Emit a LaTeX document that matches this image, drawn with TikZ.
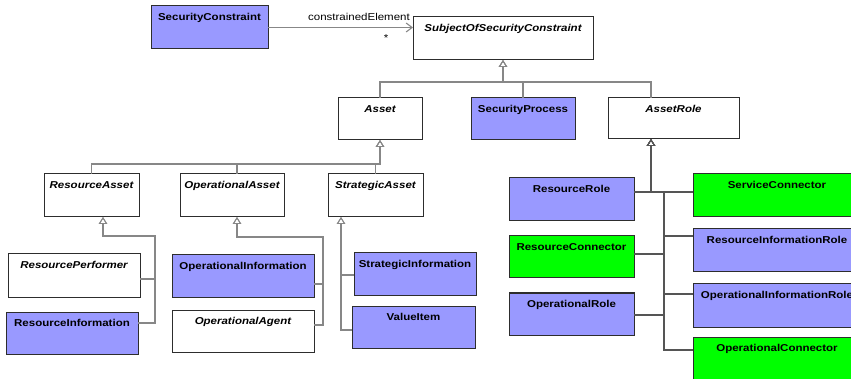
\documentclass[tikz,border=0pt]{standalone}
\usepackage{fontspec}
\setmainfont{Liberation Sans}[FakeStretch=1.15]
\usetikzlibrary{arrows.meta}
\definecolor{umlblue}{RGB}{153,153,255}
\definecolor{umlgreen}{RGB}{0,255,0}
\definecolor{boxline}{RGB}{45,45,45}
\definecolor{conn}{RGB}{135,135,135}
\definecolor{conndark}{RGB}{85,85,85}
\newcommand\umlbox[7]{%
  \pgfmathsetmacro\ubw{#4-#2}%
  \pgfmathsetmacro\ubd{#5-#3-14.5}%
  \node[cls,#6,minimum width=\ubw pt,text depth=\ubd pt] (#1) at (#2,#3) {#7};}
\begin{document}
\begin{tikzpicture}[x=1pt,y=-1pt,
  cls/.style={draw=boxline,line width=1pt,inner sep=0pt,outer sep=0pt,anchor=north west,
    text height=14.5pt,fill=white,font=\fontsize{10}{12}\selectfont\bfseries},
  abstractcls/.style={font=\fontsize{10}{12}\selectfont\bfseries\itshape},
  bluecls/.style={fill=umlblue},
  greencls/.style={fill=umlgreen},
  inh/.style={draw=conn,line width=1.1pt,-{Triangle[open,length=7pt,width=8.5pt,line width=0.9pt]}},
  inhdark/.style={inh,draw=conndark},
  assoc/.style={draw=conn,line width=1.1pt,-{Straight Barb[length=6pt,width=9pt]}},
  lbl/.style={font=\fontsize{10}{12}\selectfont,inner sep=0pt,anchor=base}]
\useasboundingbox (0,0) rectangle (851,379);
\clip (0,0) rectangle (851,379);

% classes
\umlbox{secconst}{151}{6}{268}{49}{bluecls}{SecurityConstraint}
\umlbox{subj}{413}{17}{593}{60}{abstractcls}{SubjectOfSecurityConstraint}
\umlbox{asset}{338}{98}{422}{140}{abstractcls}{Asset}
\umlbox{secproc}{471}{98}{575}{140}{bluecls}{SecurityProcess}
\umlbox{assetrole}{608}{98}{739}{139}{abstractcls}{AssetRole}
\umlbox{resasset}{44}{174}{139}{217}{abstractcls}{ResourceAsset}
\umlbox{opasset}{180}{174}{284}{217}{abstractcls}{OperationalAsset}
\umlbox{stratasset}{328}{174}{423}{217}{abstractcls}{StrategicAsset}
\umlbox{resperf}{8}{254}{140}{297}{abstractcls}{ResourcePerformer}
\umlbox{resinfo}{6}{312}{138}{354}{bluecls}{ResourceInformation}
\umlbox{opinfo}{172}{255}{314}{297}{bluecls}{OperationalInformation}
\umlbox{opagent}{172}{310}{314}{352}{abstractcls}{OperationalAgent}
\umlbox{stratinfo}{354}{253}{476}{295}{bluecls}{StrategicInformation}
\umlbox{valueitem}{352}{306}{475}{348}{bluecls}{ValueItem}
\umlbox{resrole}{509}{178}{634}{221}{bluecls}{ResourceRole}
\umlbox{resconn}{509}{236}{634}{278}{greencls}{ResourceConnector}
\umlbox{oprole}{509}{293}{634}{335}{bluecls}{OperationalRole}
\umlbox{servconn}{693}{174}{861}{217}{greencls}{ServiceConnector}
\umlbox{resinforole}{693}{229}{861}{272}{bluecls}{ResourceInformationRole}
\umlbox{opinforole}{693}{284}{861}{327}{bluecls}{OperationalInformationRole}
\umlbox{opconn}{693}{337}{861}{392}{greencls}{OperationalConnector}

% association
\draw[assoc] (secconst.east) -- (secconst.east -| subj.west);
\node[lbl,anchor=base east] (lblce) at (410,21) {constrainedElement};
\node[lbl] (lblmult) at (386,42) {*};

% generalisation to SubjectOfSecurityConstraint
\coordinate (h0) at (503,82);
\coordinate (arx) at (651,0);
\draw[inh] (asset.north) |- (h0) -- (subj.south);
\draw[inh] (secproc.north) |- (h0) -- (subj.south);
\draw[inh] (assetrole.north -| arx) |- (h0) -- (subj.south);

% generalisation to Asset
\coordinate (h1) at (380,164);
\coordinate (oax) at (237,0);
\draw[inh] (resasset.north) |- (h1) -- (asset.south);
\draw[inh] (opasset.north -| oax) |- (h1) -- (asset.south);
\draw[inh] (stratasset.north) |- (h1) -- (asset.south);

% generalisation to ResourceAsset
\coordinate (raJ) at (103,236);
\coordinate (raBus) at (155,236);
\draw[inh] ([yshift=-25pt]resperf.north east) -| (raBus) -- (raJ) -- ([xshift=59pt]resasset.south west);
\draw[inh] ([yshift=-11pt]resinfo.north east) -| (raBus) -- (raJ) -- ([xshift=59pt]resasset.south west);

% generalisation to OperationalAsset
\coordinate (oaJ) at (237,237);
\coordinate (oaBus) at (323,237);
\draw[inh] ([yshift=-29pt]opinfo.north east) -| (oaBus) -- (oaJ) -- ([xshift=57pt]opasset.south west);
\draw[inh] ([yshift=-15pt]opagent.north east) -| (oaBus) -- (oaJ) -- ([xshift=57pt]opasset.south west);

% generalisation to StrategicAsset
\draw[inh] ([yshift=-22pt]stratinfo.north west) -| ([xshift=13pt]stratasset.south west);
\draw[inh] ([yshift=-24pt]valueitem.north west) -| ([xshift=13pt]stratasset.south west);

% generalisation to AssetRole
\coordinate (arJ) at (651,192);
\coordinate (arBus) at (664,192);
\draw[inhdark] ([yshift=-14pt]resrole.north east) -- (arJ) -- ([xshift=43pt]assetrole.south west);
\draw[inhdark] ([yshift=-18pt]servconn.north west) -| (arBus) -- (arJ) -- ([xshift=43pt]assetrole.south west);
\draw[inhdark] ([yshift=-7pt]resinforole.north west) -| (arBus) -- (arJ) -- ([xshift=43pt]assetrole.south west);
\draw[inhdark] ([yshift=-18pt]resconn.north east) -| (arBus) -- (arJ) -- ([xshift=43pt]assetrole.south west);
\draw[inhdark] ([yshift=-10pt]opinforole.north west) -| (arBus) -- (arJ) -- ([xshift=43pt]assetrole.south west);
\draw[inhdark] ([yshift=-22pt]oprole.north east) -| (arBus) -- (arJ) -- ([xshift=43pt]assetrole.south west);
\draw[inhdark] ([yshift=-13pt]opconn.north west) -| (arBus) -- (arJ) -- ([xshift=43pt]assetrole.south west);
\end{tikzpicture}
\end{document}
